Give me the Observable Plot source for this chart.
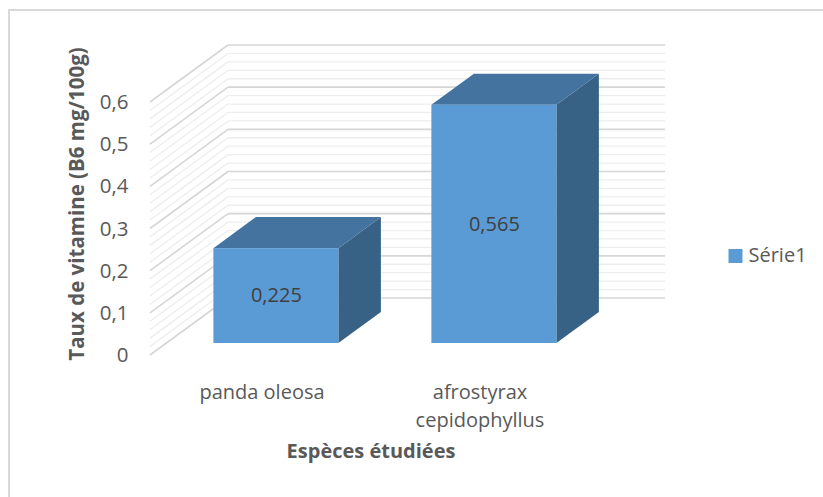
<!DOCTYPE html>
<html><head><meta charset="utf-8">
<script src="https://cdn.jsdelivr.net/npm/d3@7"></script>
<script src="https://cdn.jsdelivr.net/npm/@observablehq/plot@0.6"></script>
<style>
html,body{margin:0;padding:0;background:#fff;overflow:hidden;}
#wrap{position:relative;width:823px;height:497px;}
#border{position:absolute;left:8px;top:9px;width:900px;height:600px;border:2px solid #d9d9d9;box-sizing:border-box;}
#chart{position:absolute;left:0;top:0;}
</style>
</head><body>
<div id="wrap"><div id="border"></div><div id="chart"></div></div>
<script>
// ---- data ----
const categories = ["panda oleosa", "afrostyrax cepidophyllus"];
const categoryLabels = ["panda oleosa", "afrostyrax\ncepidophyllus"];
const values = [0.225, 0.565];
const valueLabels = ["0,225", "0,565"];
const yTicks = [0, 0.1, 0.2, 0.3, 0.4, 0.5, 0.6];
const yTickLabels = ["0", "0,1", "0,2", "0,3", "0,4", "0,5", "0,6"];
const seriesName = "Série1";
const yTitle = "Taux de vitamine (B6 mg/100g)";
const xTitle = "Espèces étudiées";

// ---- style ----
const FONT = "'Open Sans', sans-serif";
const TEXT = "#595959";
const FRONT = "#5B9BD5", TOP = "#44739F", SIDE = "#386186";
const DX = 78, DY = 57;        // depth of the 3D box, pixels
const BF = 0.21, BB = 0.755;   // bar front/back depth fractions

const data = categories.map((c, i) => ({cat: c, value: values[i], label: valueLabels[i]}));
const xLab = new Map(categories.map((c, i) => [c, categoryLabels[i]]));
const yLab = new Map(yTicks.map((t, i) => [t, yTickLabels[i]]));
const minorTicks = d3.ticks(0, 0.6, 30);

function walls(index, scales, vals, dims) {
  const y = scales.y;
  const x0 = dims.marginLeft, x1 = dims.width - dims.marginRight;
  const g = d3.create("svg:g");
  const draw = (t, major) => {
    const yy = y(t);
    const st = major ? "#d6d6d6" : "#ededed";
    const sw = major ? 1.6 : 1.3;
    g.append("line").attr("x1", x0).attr("y1", yy).attr("x2", x0 + DX).attr("y2", yy - DY)
      .attr("stroke", st).attr("stroke-width", sw);
    g.append("line").attr("x1", x0 + DX).attr("y1", yy - DY).attr("x2", x1 + DX).attr("y2", yy - DY)
      .attr("stroke", st).attr("stroke-width", sw);
  };
  const majors = new Set(yTicks.map(t => Math.round(t * 100)));
  minorTicks.filter(t => !majors.has(Math.round(t * 100))).forEach(t => draw(t, false));
  yTicks.forEach(t => draw(t, true));
  return g.node();
}

function boxes(index, scales) {
  const {x, y} = scales;
  const bw = x.bandwidth();
  const g = d3.create("svg:g");
  const ox = DX * (BB - BF), oy = DY * (BB - BF);
  data.forEach(d => {
    const xa = x(d.cat) + DX * BF, xb = xa + bw;
    const yt = y(d.value) - DY * BF, yb = y(0) - DY * BF;
    g.append("polygon")
      .attr("points", [[xb, yt], [xb + ox, yt - oy], [xb + ox, yb - oy], [xb, yb]].map(p => p.join(",")).join(" "))
      .attr("fill", SIDE);
    g.append("polygon")
      .attr("points", [[xa, yt], [xb, yt], [xb + ox, yt - oy], [xa + ox, yt - oy]].map(p => p.join(",")).join(" "))
      .attr("fill", TOP);
  });
  return g.node();
}

const plot = Plot.plot({
  width: 823,
  height: 497,
  marginTop: 102,
  marginBottom: 142,
  marginLeft: 150,
  marginRight: 236,
  style: {fontFamily: FONT, fontSize: "20px", color: TEXT, background: "transparent"},
  x: {type: "band", domain: categories, paddingInner: 0.425, paddingOuter: 0.2125, axis: null},
  y: {domain: [0, 0.6], axis: null},
  marks: [
    walls,
    boxes,
    Plot.barY(data, {x: "cat", y: "value", fill: FRONT, dx: DX * BF, dy: -DY * BF}),
    Plot.text(data, {x: "cat", y: d => d.value / 2, text: "label", dx: DX * BF, dy: -DY * BF,
      fill: "#404040", fontSize: 20}),
    Plot.axisY(yTicks, {tickSize: 0, tickPadding: 22, tickFormat: d => yLab.get(d), fontSize: 20.5, fill: TEXT, label: null}),
    Plot.axisX(categories, {tickSize: 0, tickPadding: 24, tickFormat: d => xLab.get(d), lineHeight: 1.4,
      lineAnchor: "top", fontSize: 20, fill: TEXT, label: null, dx: 2}),
    Plot.text([yTitle], {frameAnchor: "left", text: d => d, rotate: -90, dx: -73, dy: -25,
      textAnchor: "middle", fontWeight: "bold", fontSize: 20.5, fill: TEXT, lineAnchor: "middle"}),
    Plot.text([xTitle], {frameAnchor: "bottom", text: d => d, dx: 2, dy: 96,
      textAnchor: "middle", fontWeight: "bold", fontSize: 20, fill: TEXT, lineAnchor: "middle"}),
    Plot.dot([seriesName], {frameAnchor: "right", dx: 148, dy: 27, symbol: "square", r: 7.9, fill: FRONT}),
    Plot.text([seriesName], {frameAnchor: "right", text: d => d, dx: 161, dy: 27, textAnchor: "start",
      fontSize: 20, fill: TEXT, lineAnchor: "middle"})
  ]
});
document.getElementById("chart").appendChild(plot);
</script>
</body></html>
